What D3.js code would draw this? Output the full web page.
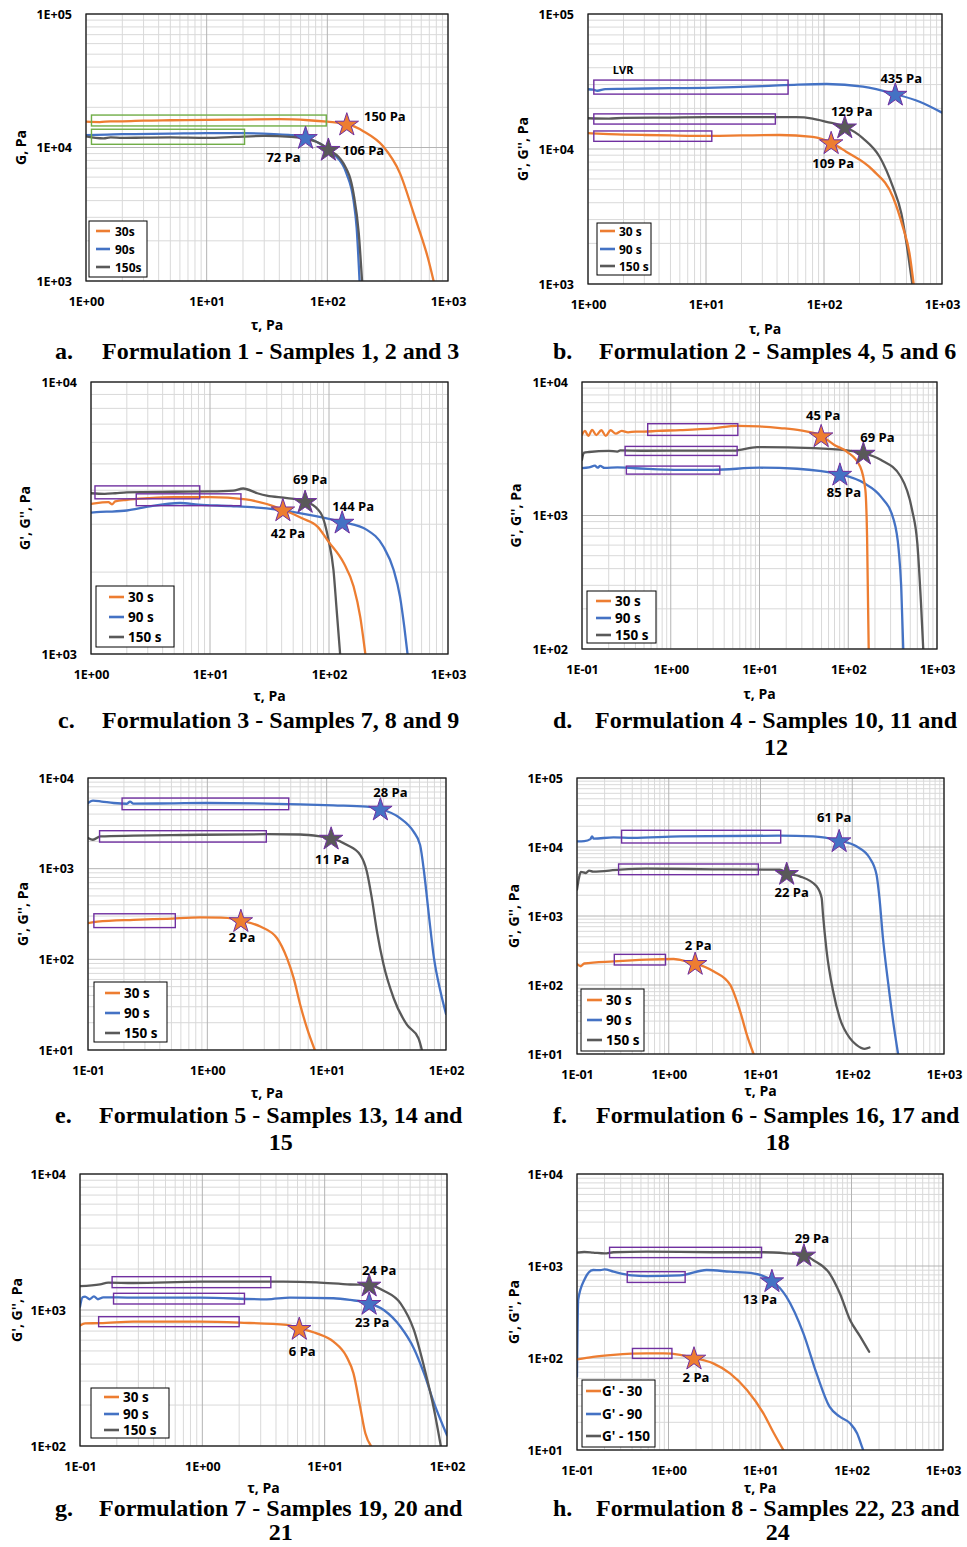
<!DOCTYPE html>
<html><head><meta charset="utf-8">
<script src="https://cdn.jsdelivr.net/npm/d3@7"></script>
<style>
body{margin:0;background:#fff}
svg{display:block}
text{font-family:"Open Sans",sans-serif;font-weight:700;fill:#000}
.cap{font-family:"Liberation Serif","Times New Roman",serif;font-weight:700;font-size:24px}
</style>
</head><body>
<svg id="chart" width="967" height="1547"></svg>
<script>
// ---------- DATA (tau [Pa], modulus [Pa]) ----------
// Panel a – Formulation 1
const a30  = [[1,15600],[1.3,15500],[1.6,15700],[2,15700],[3,15900],[5,16000],[10,16100],[20,16200],[40,16300],[70,16000],[100,15600],[145,15000],[200,13200],[290,10200],[400,6400],[520,3200],[590,2270],[680,1500],[760,1000]];
const a90  = [[1,12400],[1.5,12500],[2,12600],[5,12700],[10,12800],[20,12800],[36,12600],[50,12400],[66,11900],[90,10500],[112,9000],[144,6400],[165,4000],[175,2500],[185,1000]];
const a150 = [[1,12100],[1.2,11800],[1.4,11700],[1.6,11900],[2,11800],[3,11850],[5,11900],[10,11800],[17,12000],[30,12200],[50,12000],[70,11500],[87,10700],[102,9700],[136,7600],[165,4500],[182,2300],[194,1000]];
const aStars = [[145,15000,"150 Pa"],[66,11900,"72 Pa"],[102,9700,"106 Pa"]];
const aLVR = [[1.11,98,14500,17500],[1.11,20.6,10570,13700]];

// Panel b – Formulation 2
const b30  = [[1,13100],[1.5,12900],[2,12800],[3,12700],[5,12600],[11,12500],[20,12600],[42,12700],[80,12300],[115,11150],[154,9550],[258,7000],[383,4430],[465,2660],[530,1690],[575,1000]];
const b90  = [[1,27700],[1.1,27500],[1.2,27000],[1.4,27800],[2,27900],[5,28200],[10,28400],[30,29200],[60,30000],[105,30300],[214,29000],[402,25500],[646,22400],[1000,18600]];
const b150 = [[1,16900],[1.5,16800],[2,17000],[5,17100],[10,17200],[30,17200],[58,17200],[80,16800],[105,15900],[150,14600],[214,12000],[296,8770],[383,5260],[452,3340],[515,1690],[560,1000]];
const bStars = [[115,11150,"109 Pa"],[402,25500,"435 Pa"],[150,14600,"129 Pa"]];
const bLVR = [[1.12,49.6,25500,32400],[1.12,38.7,15300,18200],[1.12,11.2,11400,13600]];

// Panel c – Formulation 3
const c30  = [[1,3565],[1.2,3600],[1.4,3620],[1.5,3550],[1.6,3640],[2,3690],[3,3740],[5,3775],[10,3775],[20,3700],[30,3560],[41,3390],[60,3150],[80,2940],[99,2590],[133,2160],[161,1770],[183,1370],[202,1000]];
const c90  = [[1,3310],[1.2,3330],[1.5,3340],[2,3370],[3,3480],[5.6,3590],[8,3540],[15,3500],[30,3430],[58,3290],[129,3055],[208,2860],[287,2480],[349,2040],[395,1625],[430,1250],[457,1000]];
const c150 = [[1,3900],[1.3,3880],[1.6,3900],[2,3930],[5,3950],[10,3960],[15.7,3990],[19,4060],[25,3900],[30,3820],[44.5,3745],[63,3640],[85,3300],[99,2630],[109,2040],[116,1450],[124,1000]];
const cStars = [[41,3390,"42 Pa"],[129,3055,"144 Pa"],[63,3640,"69 Pa"]];
const cLVR = [[1.08,8.2,3720,4150],[2.40,18.2,3510,3880]];

// Panel d – Formulation 4
const d30  = [[0.1,4030],[0.108,4300],[0.118,3950],[0.13,4380],[0.145,4000],[0.165,4350],[0.185,3950],[0.21,4350],[0.24,4100],[0.28,4300],[0.33,4200],[0.4,4250],[0.5,4250],[0.7,4300],[1.28,4360],[3,4500],[5.6,4700],[10,4650],[17,4520],[29,4340],[49.5,3960],[69,3390],[97,3000],[136,2330],[156,1550],[163,690],[170,100]];
const d90  = [[0.1,2265],[0.12,2290],[0.14,2360],[0.15,2280],[0.16,2350],[0.18,2270],[0.25,2290],[0.4,2260],[1.28,2200],[3.03,2200],[10,2280],[26.5,2240],[50,2150],[80.5,2040],[150,1750],[232,1390],[325,930],[370,553],[395,294],[417,100]];
const d150 = [[0.1,2615],[0.105,2950],[0.12,2990],[0.2,3050],[0.25,3010],[0.27,3070],[0.5,3055],[2,3060],[5.1,3060],[9.4,3255],[41,3200],[97,3070],[148,2935],[232,2615],[390,1960],[524,1100],[600,620],[660,220],[700,100]];
const dStars = [[49.5,3960,"45 Pa"],[80.5,2040,"85 Pa"],[148,2935,"69 Pa"]];
const dLVR = [[0.55,5.7,3980,4870],[0.306,5.6,2818,3293],[0.316,3.57,2042,2344]];

// Panel e – Formulation 5
const e30  = [[0.1,250],[0.12,261],[0.241,273],[0.459,280],[0.873,290],[1.3,288],[1.66,280],[1.91,268],[2.78,230],[3.84,171],[4.65,103],[5.29,62],[6.01,31.4],[6.84,17.4],[7.95,10]];
const e90  = [[0.1,5300],[0.11,5620],[0.13,5500],[0.164,5300],[0.212,5200],[0.225,5500],[0.24,5210],[0.5,5250],[0.99,5300],[6,5130],[11.4,4990],[21.6,4830],[28.2,4550],[41.2,3614],[53.3,2575],[60.6,1835],[65.9,857],[71.8,310],[79.3,103],[90,44],[100,25]];
const e150 = [[0.1,2175],[0.11,2085],[0.127,2270],[0.241,2310],[0.5,2340],[0.873,2365],[3.15,2400],[6,2380],[8.8,2270],[10.9,2175],[14.7,1835],[19.1,1420],[21.7,931],[23.9,473],[26.4,203],[30,87],[36.5,37],[47,19],[58.8,13.5],[62.8,10]];
const eStars = [[1.91,268,"2 Pa"],[28.2,4550,"28 Pa"],[10.9,2175,"11 Pa"]];
const eLVR = [[0.193,4.81,4470,6010],[0.125,3.12,1964,2622],[0.112,0.539,224,318]];

// Panel f – Formulation 6
const f30  = [[0.1,201],[0.11,187],[0.12,205],[0.25,220],[0.577,233],[1.13,238],[1.57,220],[1.94,206],[3.07,158],[4.66,101],[6,41.5],[7.09,19.1],[8.4,10]];
const f90  = [[0.1,12080],[0.12,12200],[0.14,13000],[0.146,14290],[0.152,13200],[0.25,13800],[0.4,13600],[1.33,14290],[16.3,14590],[37.5,14290],[72,12360],[111,10230],[155,6920],[184,3970],[198,1820],[216,480],[245,113],[279,29.7],[316,10]];
const f150 = [[0.1,2410],[0.105,3560],[0.11,4350],[0.125,4200],[0.135,4540],[0.15,4400],[0.296,4700],[0.577,4850],[3.07,4750],[16.3,4700],[19.3,4150],[26.8,3760],[40.9,2690],[46.4,1820],[48,1046],[52.6,308],[61.9,81],[73.2,33],[94.2,17],[111,13.6],[137,11.9],[154,12.4]];
const fStars = [[1.94,206,"2 Pa"],[72,12360,"61 Pa"],[19.3,4150,"22 Pa"]];
const fLVR = [[0.306,16.6,11430,17470],[0.284,9.47,3970,5670],[0.255,0.922,195,278]];

// Panel g – Formulation 7
const g30  = [[0.1,767],[0.11,798],[0.146,800],[0.273,820],[0.96,820],[2.03,807],[4.9,776],[6.2,733],[8.6,673],[11.8,585],[15.1,454],[17.2,342],[19.5,194],[21.5,124],[23.9,100]];
const g90  = [[0.1,1058],[0.105,1240],[0.11,1253],[0.12,1200],[0.13,1260],[0.14,1200],[0.155,1240],[0.273,1233],[0.96,1233],[3.36,1198],[5.2,1233],[11.8,1220],[16.2,1185],[23.1,1120],[30.4,1000],[41.7,753],[53.6,522],[64.9,342],[78.5,206],[100,120]];
const g150 = [[0.1,1500],[0.146,1545],[0.17,1590],[0.273,1580],[0.96,1615],[3.36,1615],[4.6,1615],[8.6,1595],[16.2,1540],[23.1,1527],[30.4,1387],[41.7,1120],[53.6,713],[64.9,383],[78.5,184],[89,100]];
const gStars = [[6.2,733,"6 Pa"],[23.1,1120,"23 Pa"],[23.1,1527,"24 Pa"]];
const gLVR = [[0.183,3.63,1460,1758],[0.188,2.21,1107,1327],[0.142,2.0,754,893]];

// Panel h – Formulation 8
const h30  = [[0.1,96.8],[0.15,103],[0.25,108],[0.579,112],[0.88,112],[1.34,108],[1.9,100],[3.08,87.5],[4.7,68],[7.2,44.9],[10.9,25],[13.9,15.8],[18,10]];
const h90  = [[0.1,62.7],[0.103,427],[0.12,705],[0.15,905],[0.18,900],[0.2,920],[0.251,867],[0.4,790],[0.579,778],[1.34,790],[2.61,905],[4.7,867],[8.4,832],[13.5,693],[19.4,464],[29.8,185],[41.5,68],[57.5,29.6],[74.5,23],[96.4,19.5],[115,15.2],[130,10.9],[134,10]];
const h150 = [[0.1,1396],[0.12,1420],[0.15,1400],[0.2,1370],[0.251,1410],[0.579,1432],[3.08,1410],[10.9,1410],[19.4,1374],[30.2,1318],[38,1162],[57.5,832],[74.5,505],[96.4,259],[124.6,171],[156,117]];
const hStars = [[1.9,100,"2 Pa"],[13.5,693,"13 Pa"],[30.2,1318,"29 Pa"]];
const hLVR = [[0.227,10.4,1233,1597],[0.354,1.52,663,867],[0.404,1.09,99,127]];

const legendA = ["30s","90s","150s"];
const legendS = ["30 s","90 s","150 s"];
const legendH = ["G' - 30","G' - 90","G' - 150"];
const captions = [
  ["a.",["Formulation 1 - Samples 1, 2 and 3"]],
  ["b.",["Formulation 2 - Samples 4, 5 and 6"]],
  ["c.",["Formulation 3 - Samples 7, 8 and 9"]],
  ["d.",["Formulation 4 - Samples 10, 11 and","12"]],
  ["e.",["Formulation 5 - Samples 13, 14 and","15"]],
  ["f.",["Formulation 6 - Samples 16, 17 and","18"]],
  ["g.",["Formulation 7 - Samples 19, 20 and","21"]],
  ["h.",["Formulation 8 - Samples 22, 23 and","24"]]
];

// ---------- LAYOUT / STYLE ----------
const COLORS = ["#ED7D31","#4472C4","#595959"];
const PURPLE = "#7030A0", GREEN = "#70AD47";
const panels = [
 {s:[a30,a90,a150],st:aStars,lvr:aLVR,lc:GREEN,leg:legendA,ytitle:"G, Pa",
  L:86,R:448,T:14,B:281,xd:[1,1000],yd:[1e3,1e5],yt:20,xt:324,
  lab:[[38,-8],[-22,20],[35,1]],lb:[89,221,147,277],ly:[231,249,267],sw:[96,110],tx:115,lf:12},
 {s:[b30,b90,b150],st:bStars,lvr:bLVR,lc:PURPLE,leg:legendS,ytitle:"G', G'', Pa",lvrText:true,
  L:588,R:942,T:14,B:284,xd:[1,1000],yd:[1e3,1e5],yt:522,xt:328,
  lab:[[2,20],[6,-16],[7,-16]],lb:[597,223,651,275],ly:[231,249,266],sw:[600,615],tx:619,lf:12},
 {s:[c30,c90,c150],st:cStars,lvr:cLVR,lc:PURPLE,leg:legendS,ytitle:"G', G'', Pa",
  L:91,R:448,T:382,B:654,xd:[1,1000],yd:[1e3,1e4],yt:24,xt:695,
  lab:[[5,23],[11,-16],[5,-22]],lb:[96,586,174,647],ly:[597,617,637],sw:[109,124],tx:128,lf:13.5},
 {s:[d30,d90,d150],st:dStars,lvr:dLVR,lc:PURPLE,leg:legendS,ytitle:"G', G'', Pa",
  L:582,R:937,T:382,B:649,xd:[0.1,1000],yd:[1e2,1e4],yt:515,xt:693,
  lab:[[2,-21],[4,18],[14,-16]],lb:[587,591,656,643],ly:[601,618,635],sw:[596,611],tx:615,lf:13.5},
 {s:[e30,e90,e150],st:eStars,lvr:eLVR,lc:PURPLE,leg:legendS,ytitle:"G', G'', Pa",
  L:88,R:446,T:778,B:1050,xd:[0.1,100],yd:[10,1e4],yt:22,xt:1092,
  lab:[[1,16],[10,-17],[1,21]],lb:[94,982,167,1042],ly:[993,1013,1033],sw:[105,120],tx:124,lf:13.5},
 {s:[f30,f90,f150],st:fStars,lvr:fLVR,lc:PURPLE,leg:legendS,ytitle:"G', G'', Pa",
  L:577,R:944,T:778,B:1054,xd:[0.1,1000],yd:[10,1e5],yt:513,xt:1090,
  lab:[[3,-18],[-5,-24],[5,19]],lb:[581,989,644,1051],ly:[1000,1020,1040],sw:[587,602],tx:606,lf:13.5},
 {s:[g30,g90,g150],st:gStars,lvr:gLVR,lc:PURPLE,leg:legendS,ytitle:"G', G'', Pa",
  L:80,R:447,T:1174,B:1446,xd:[0.1,100],yd:[100,1e4],yt:16,xt:1487,
  lab:[[3,23],[3,19],[10,-15]],lb:[91,1388,169,1438],ly:[1397,1414,1430],sw:[104,119],tx:123,lf:13.5},
 {s:[h30,h90,h150],st:hStars,lvr:hLVR,lc:PURPLE,leg:legendH,ytitle:"G', G'', Pa",
  L:577,R:943,T:1174,B:1450,xd:[0.1,1000],yd:[10,1e4],yt:513,xt:1487,
  lab:[[2,19],[-12,18],[8,-17]],lb:[582,1380,655,1447],ly:[1391,1414,1436],sw:[586,601],tx:602,lf:13.5}
];
const capPos = [[55,102,359,27],[553,599,359,27],[58,102,728,27],[553,595,728,27],[55,99,1123,27],[553,596,1123,27],[55,99,1516,24],[553,596,1516,24]];

const svg = d3.select("#chart");
const fmt = v => { const e = Math.round(Math.log10(v)); return "1E" + (e < 0 ? "-" : "+") + String(Math.abs(e)).padStart(2,"0"); };
const isMajor = v => Math.abs(Math.log10(v) - Math.round(Math.log10(v))) < 1e-9;

panels.forEach((p, i) => {
  const x = d3.scaleLog().domain(p.xd).range([p.L, p.R]);
  const y = d3.scaleLog().domain(p.yd).range([p.B, p.T]);
  const g = svg.append("g");
  const xt = x.ticks(), ytk = y.ticks();
  [false, true].forEach(maj => {
    g.append("g").selectAll("line").data(xt.filter(v => isMajor(v) === maj)).join("line")
      .attr("x1", d => x(d)).attr("x2", d => x(d)).attr("y1", p.T).attr("y2", p.B)
      .attr("stroke", maj ? "#b4b4b4" : "#d9d9d9").attr("stroke-width", 1);
    g.append("g").selectAll("line").data(ytk.filter(v => isMajor(v) === maj)).join("line")
      .attr("y1", d => y(d)).attr("y2", d => y(d)).attr("x1", p.L).attr("x2", p.R)
      .attr("stroke", maj ? "#b4b4b4" : "#d9d9d9").attr("stroke-width", 1);
  });
  const xAx = g.append("g").attr("transform", `translate(0,${p.B})`)
    .call(d3.axisBottom(x).tickValues(xt.filter(isMajor)).tickFormat(fmt).tickSize(0).tickPadding(16));
  const yAx = g.append("g").attr("transform", `translate(${p.L},0)`)
    .call(d3.axisLeft(y).tickValues(ytk.filter(isMajor)).tickFormat(fmt).tickSize(0).tickPadding(14));
  [xAx, yAx].forEach(a => { a.select(".domain").remove(); a.attr("font-family", null).attr("font-size", null);
    a.selectAll("text").style("font-size", "12.5px").style("font-family", '"Open Sans",sans-serif').style("font-weight", 700).attr("fill", "#000"); });
  const cid = "clip" + i;
  svg.append("clipPath").attr("id", cid).append("rect")
    .attr("x", p.L).attr("y", p.T).attr("width", p.R - p.L).attr("height", p.B - p.T);
  const line = d3.line().x(d => x(d[0])).y(d => y(d[1])).curve(d3.curveMonotoneX);
  const lg = g.append("g").attr("clip-path", `url(#${cid})`);
  [1, 2, 0].forEach(k => {
    lg.append("path").attr("d", line(p.s[k])).attr("fill", "none")
      .attr("stroke", COLORS[k]).attr("stroke-width", 2.3).attr("stroke-linejoin", "round").attr("stroke-linecap", "round");
  });
  g.append("g").selectAll("rect").data(p.lvr).join("rect")
    .attr("x", d => x(d[0])).attr("width", d => x(d[1]) - x(d[0]))
    .attr("y", d => y(d[3])).attr("height", d => y(d[2]) - y(d[3]))
    .attr("fill", "none").attr("stroke", p.lc).attr("stroke-width", 1.4);
  if (p.lvrText) {
    const r = p.lvr[0];
    g.append("text").attr("x", x(r[0]) + 19).attr("y", y(r[3]) - 6).style("font-size", "11px").text("LVR");
  }
  const star = d3.symbol(d3.symbolStar, 170);
  p.st.forEach((s, k) => {
    g.append("path").attr("d", star()).attr("transform", `translate(${x(s[0])},${y(s[1]) + 1})`)
      .attr("fill", COLORS[k]).attr("stroke", PURPLE).attr("stroke-width", 1);
    g.append("text").attr("x", x(s[0]) + p.lab[k][0]).attr("y", y(s[1]) + p.lab[k][1])
      .attr("text-anchor", "middle").attr("dominant-baseline", "central").style("font-size", "13px").text(s[2]);
  });
  const lb = p.lb;
  g.append("rect").attr("x", lb[0]).attr("y", lb[1]).attr("width", lb[2] - lb[0]).attr("height", lb[3] - lb[1])
    .attr("fill", "#fff").attr("stroke", "#000").attr("stroke-width", 1);
  p.leg.forEach((t, k) => {
    g.append("line").attr("x1", p.sw[0]).attr("x2", p.sw[1]).attr("y1", p.ly[k]).attr("y2", p.ly[k])
      .attr("stroke", COLORS[k]).attr("stroke-width", 2.6);
    g.append("text").attr("x", p.tx).attr("y", p.ly[k]).attr("dominant-baseline", "central")
      .style("font-size", p.lf + "px").text(t);
  });
  g.append("rect").attr("x", p.L).attr("y", p.T).attr("width", p.R - p.L).attr("height", p.B - p.T)
    .attr("fill", "none").attr("stroke", "#1a1a1a").attr("stroke-width", 1.3);
  g.append("text").attr("x", (p.L + p.R) / 2).attr("y", p.xt).attr("text-anchor", "middle")
    .attr("dominant-baseline", "central").style("font-size", "14px").text("τ, Pa");
  g.append("text").attr("transform", `translate(${p.yt},${(p.T + p.B) / 2}) rotate(-90)`)
    .attr("text-anchor", "middle").attr("dominant-baseline", "central").style("font-size", "14px").text(p.ytitle);
  const c = captions[i], cp = capPos[i];
  svg.append("text").attr("class", "cap").attr("x", cp[0]).attr("y", cp[2]).text(c[0]);
  const t1 = svg.append("text").attr("class", "cap").attr("x", cp[1]).attr("y", cp[2]).text(c[1][0]);
  if (c[1].length > 1) {
    const w = t1.node().getComputedTextLength();
    svg.append("text").attr("class", "cap").attr("x", cp[1] + w / 2).attr("y", cp[2] + cp[3])
      .attr("text-anchor", "middle").text(c[1][1]);
  }
});
</script>
</body></html>
